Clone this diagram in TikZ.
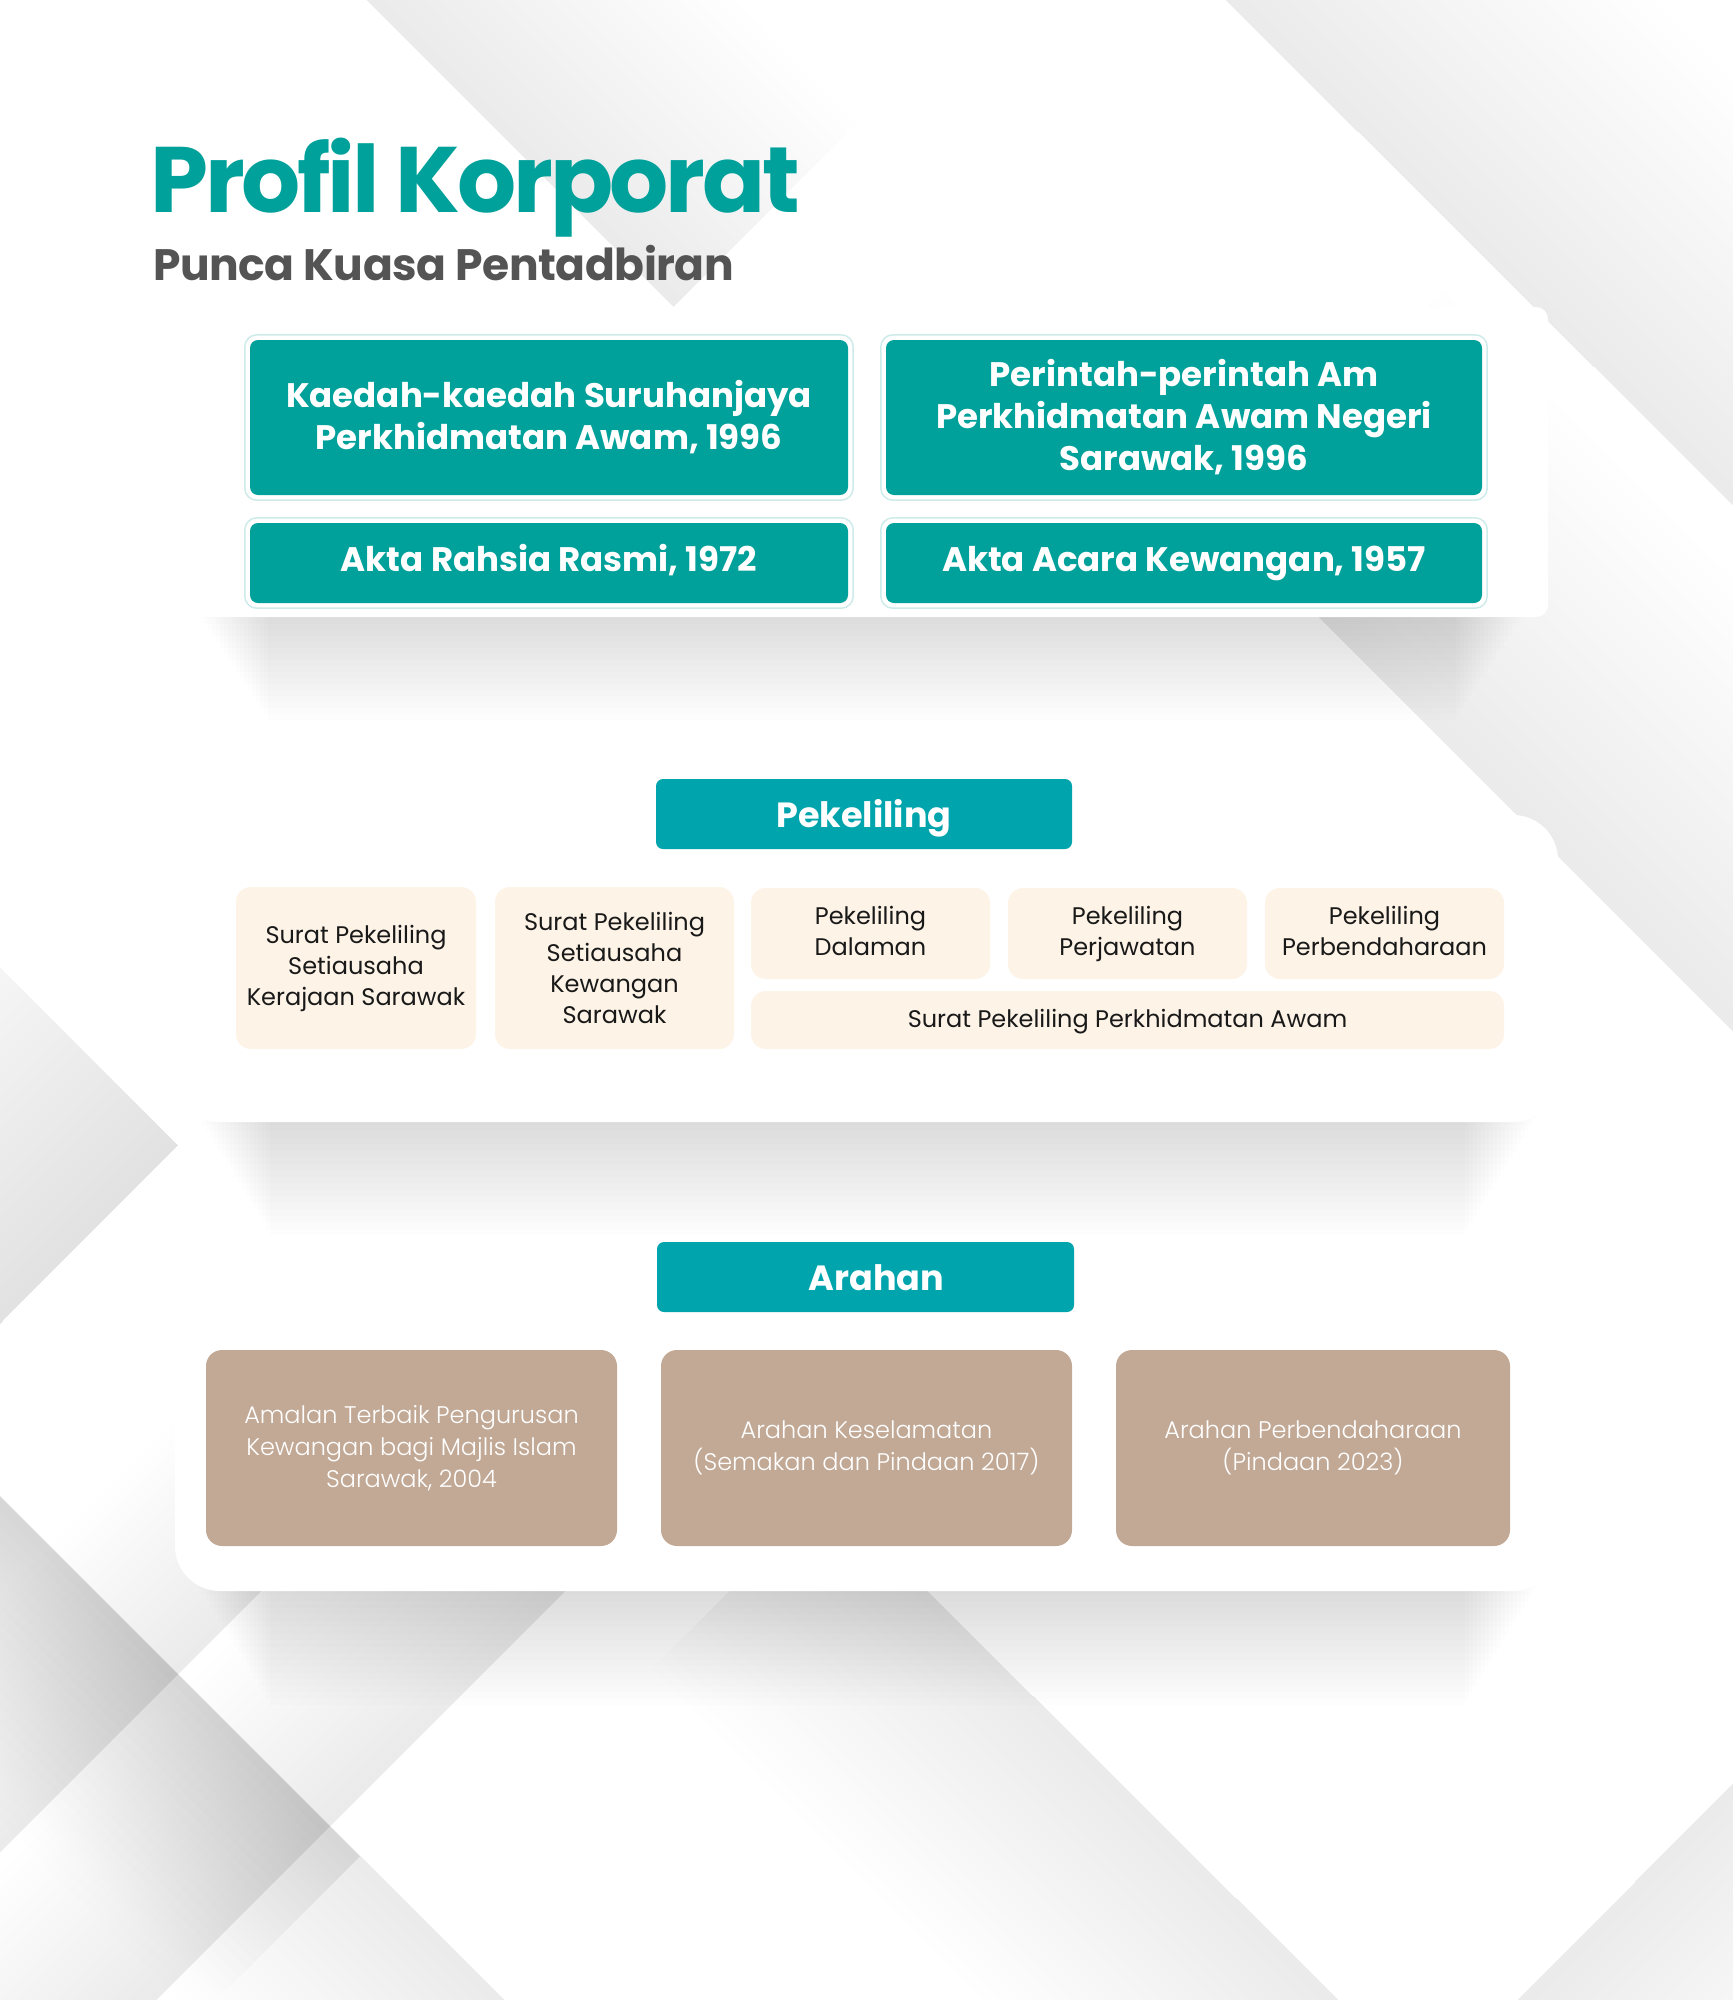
\documentclass[tikz,border=0pt]{standalone}
\usepackage{fontspec}
\usetikzlibrary{calc}
\newfontfamily\popB{Poppins Bold}
\newfontfamily\popTitle{Poppins Bold}[LetterSpace=-3.5]
\newfontfamily\popSub{Poppins Bold}[LetterSpace=-1]
\newfontfamily\popR{Poppins}
\newfontfamily\popL{Poppins Light}
\definecolor{teal1}{HTML}{00A19A}
\definecolor{teal2}{HTML}{00A4AC}
\definecolor{tealline}{HTML}{CDEBE9}
\definecolor{cream}{HTML}{FDF3E6}
\definecolor{taupe}{HTML}{C2A996}
\definecolor{subgray}{HTML}{545454}
\newcommand\band[4]{%
  \foreach \k in {1,...,20}{%
    \pgfmathsetmacro\da{\k*(#3)/20}%
    \fill[black, fill opacity=#4] (#1) -- (#2) -- ($(#2)!\da pt!-90:(#1)$) -- ($(#1)!\da pt!90:(#2)$) -- cycle;
  }%
}
\newcommand\shadowbar[4]{%
  \foreach \k in {1,...,20}{%
    \pgfmathsetmacro\hh{#3+\k*(#4)/20}%
    \pgfmathsetmacro\xa{#1+\k*4}%
    \pgfmathsetmacro\xb{#2-\k*4}%
    \fill[black, fill opacity=0.0095] (\xa,#3) rectangle (\xb,\hh);
  }%
}
\tikzset{
  boxteal/.style={rectangle, rounded corners=8pt, fill=teal1, text=white, align=center, inner sep=0pt, font=\popB\fontsize{34}{42}\selectfont},
  boxhead/.style={rectangle, rounded corners=7pt, fill=teal2, text=white, align=center, inner sep=0pt, font=\popB\fontsize{35}{42}\selectfont, minimum width=416pt, minimum height=70pt, text height=34pt, text depth=7pt},
  boxcream/.style={rectangle, rounded corners=15pt, fill=cream, text=black!90, align=center, inner sep=0pt, font=\popR\fontsize{24}{31}\selectfont},
  boxtaupe/.style={rectangle, rounded corners=16pt, fill=taupe, text=white, align=center, inner sep=0pt, font=\popL\fontsize{24}{32}\selectfont},
  outl/.style={draw=tealline, line width=1.5pt, rounded corners=12pt},
  panel/.style={fill=white, rounded corners=#1},
}
\begin{document}
\begin{tikzpicture}[x=1pt, y=-1pt]
\useasboundingbox (0,0) rectangle (1733,2000);
\fill[white] (0,0) rectangle (1733,2000);
% background ribbons
\begin{scope}
\clip (0,0) rectangle (1733,2000);
\band{-100,230}{330,-200}{200}{0.0012}
\band{367,0}{673,307}{260}{0.0035}
\band{1125,-100}{1833,605}{300}{0.005}
\band{1218,517}{1833,1131}{320}{0.005}
\begin{scope}
\clip (0,967) -- (178,1145) -- (0,1324) -- cycle;
\fill[black, fill opacity=0.035] (0,967) -- (178,1145) -- (0,1324) -- cycle;
\band{-50,1374}{228,1096}{250}{0.0035}
\end{scope}
\band{400,1062}{680,1342}{-200}{0.0014}
\band{-60,1436}{360,1856}{-200}{0.003}
\band{360,1492}{-100,1952}{-180}{0.0026}
\band{-45,1450}{603,2098}{-230}{0.0042}
\band{664,1492}{55,2101}{-200}{0.0028}
\band{828,1492}{1437,2098}{-250}{0.0045}
\band{1833,1683}{1420,2098}{260}{0.004}
\end{scope}
% shadows
\shadowbar{188}{1536}{600}{120}
\shadowbar{190}{1545}{1105}{130}
\shadowbar{190}{1545}{1575}{130}
% panels
\fill[panel=12pt] (178,307) rectangle (1548,617);
\fill[panel=45pt] (175,815) rectangle (1558,1122);
\fill[panel=45pt] (175,1276) rectangle (1558,1591);
% title
\node[anchor=base west, inner sep=0pt, text=teal1, font=\popTitle\fontsize{93}{93}\selectfont] (title) at (150,212) {Profil Korporat};
\node[anchor=base west, inner sep=0pt, text=subgray, font=\popSub\fontsize{44}{44}\selectfont] (subtitle) at (153,280) {Punca Kuasa Pentadbiran};
% top boxes
\node[boxteal, minimum width=598pt, minimum height=155pt] (k1) at (549,417.5) {Kaedah-kaedah Suruhanjaya\\Perkhidmatan Awam, 1996};
\node[boxteal, minimum width=596pt, minimum height=155pt] (k2) at (1184,417.5) {Perintah-perintah Am\\Perkhidmatan Awam Negeri\\Sarawak, 1996};
\node[boxteal, minimum width=598pt, minimum height=80pt, text height=24pt, text depth=7.2pt] (k3) at (549,563) {Akta Rahsia Rasmi, 1972};
\node[boxteal, minimum width=596pt, minimum height=80pt, text height=24pt, text depth=7.2pt] (k4) at (1184,563) {Akta Acara Kewangan, 1957};
\foreach \n in {k1,k2,k3,k4}{
  \draw[outl] ([xshift=-5pt,yshift=5pt]\n.north west) rectangle ([xshift=5pt,yshift=-5pt]\n.south east);
}
% Pekeliling
\node[boxhead] (pek) at (864,814) {Pekeliling};
\node[boxcream, minimum width=240pt, minimum height=162pt] (c1) at (356,968) {Surat Pekeliling\\Setiausaha\\Kerajaan Sarawak};
\node[boxcream, minimum width=239pt, minimum height=162pt] (c2) at (614.5,968) {Surat Pekeliling\\Setiausaha\\Kewangan\\Sarawak};
\node[boxcream, minimum width=239pt, minimum height=91pt] (c3) at (870.5,933.5) {Pekeliling\\Dalaman\vphantom{j}};
\node[boxcream, minimum width=239pt, minimum height=91pt] (c4) at (1127.5,933.5) {Pekeliling\\Perjawatan};
\node[boxcream, minimum width=239pt, minimum height=91pt] (c5) at (1384.5,933.5) {Pekeliling\\Perbendaharaan\vphantom{j}};
\node[boxcream, minimum width=753pt, minimum height=58pt, text height=18pt, text depth=4pt] (c6) at (1127.5,1020) {Surat Pekeliling Perkhidmatan Awam};
% Arahan
\node[boxhead, minimum width=417pt] (ara) at (865.5,1277) {\hspace*{22pt}Arahan};
\node[boxtaupe, minimum width=411pt, minimum height=196pt] (a1) at (411.5,1448) {Amalan Terbaik Pengurusan\\Kewangan bagi Majlis Islam\\Sarawak, 2004};
\node[boxtaupe, minimum width=411pt, minimum height=196pt] (a2) at (866.5,1448) {Arahan Keselamatan\\(Semakan dan Pindaan 2017)};
\node[boxtaupe, minimum width=394pt, minimum height=196pt] (a3) at (1313,1448) {Arahan Perbendaharaan\\(Pindaan 2023)};
\end{tikzpicture}
\end{document}
